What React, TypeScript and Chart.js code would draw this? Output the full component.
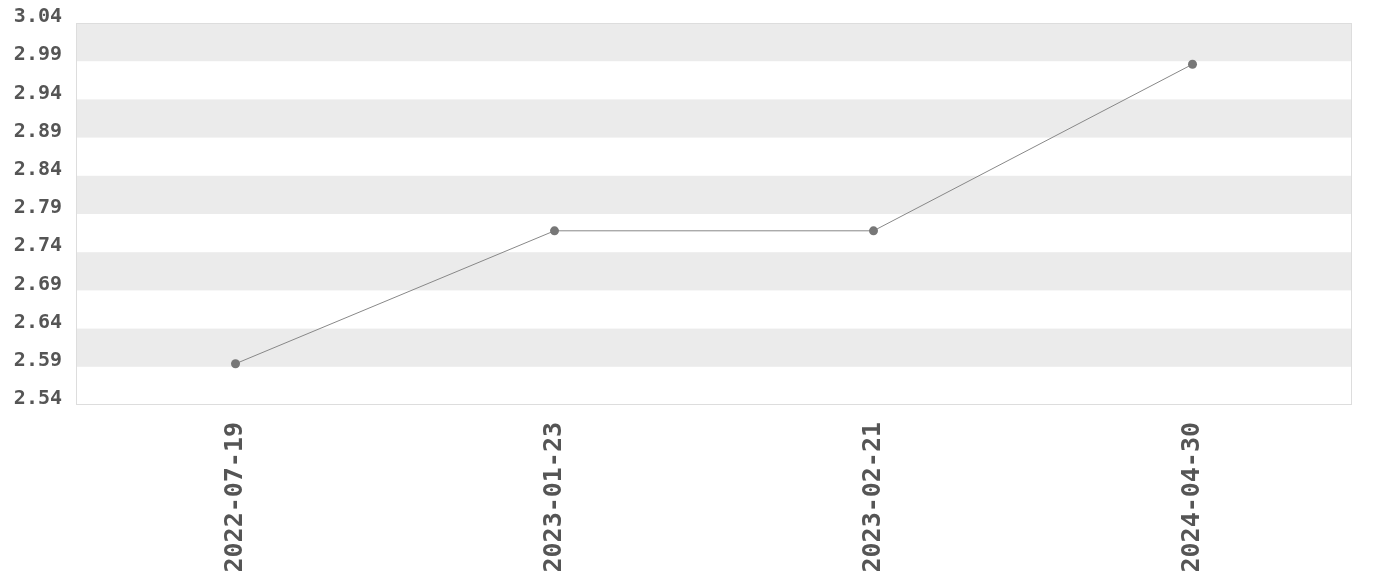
import React, { useEffect, useRef } from "react";
import { Chart, registerables } from "chart.js";

Chart.register(...registerables);

const categories = ["2022-07-19", "2023-01-23", "2023-02-21", "2024-04-30"];
const values = [2.594, 2.768, 2.768, 2.986];
const yTicks = [2.54, 2.59, 2.64, 2.69, 2.74, 2.79, 2.84, 2.89, 2.94, 2.99, 3.04];

const FONT = "'DejaVu Sans Mono', monospace";

const bandsPlugin = {
  id: "bands",
  beforeDatasetsDraw(chart: any) {
    const { ctx, chartArea } = chart;
    const y = chart.scales.y;
    ctx.save();
    ctx.fillStyle = "#ebebeb";
    for (let i = 0; i < yTicks.length - 1; i++) {
      if (i % 2 === 1) {
        const top = y.getPixelForValue(yTicks[i + 1]);
        const bottom = y.getPixelForValue(yTicks[i]);
        ctx.fillRect(chartArea.left, top, chartArea.right - chartArea.left, bottom - top);
      }
    }
    ctx.strokeStyle = "#dddddd";
    ctx.lineWidth = 1;
    ctx.strokeRect(
      Math.round(chartArea.left) + 0.5,
      Math.round(chartArea.top) + 0.5,
      Math.round(chartArea.right - chartArea.left) - 1,
      Math.round(chartArea.bottom - chartArea.top) - 1
    );
    ctx.restore();
  },
};

export default function App() {
  const ref = useRef<HTMLCanvasElement | null>(null);
  useEffect(() => {
    document.body.style.margin = "0";
    if (!ref.current) return;
    const chart = new Chart(ref.current, {
      type: "line",
      data: {
        labels: categories,
        datasets: [
          {
            data: values,
            borderColor: "#888888",
            borderWidth: 1,
            pointRadius: 4.5,
            pointBackgroundColor: "#777777",
            pointBorderColor: "#777777",
            pointBorderWidth: 0,
            tension: 0,
            fill: false,
          },
        ],
      },
      options: {
        animation: false,
        responsive: false,
        maintainAspectRatio: false,
        layout: { padding: { top: 23, right: 28, bottom: 0, left: 0 } },
        plugins: { legend: { display: false }, tooltip: { enabled: false } },
        scales: {
          x: {
            offset: true,
            grid: { display: false, drawTicks: false },
            border: { display: false },
            afterFit: (axis: any) => {
              axis.height = 175;
              axis.paddingLeft = 0;
              axis.paddingRight = 0;
            },
            ticks: {
              minRotation: 90,
              maxRotation: 90,
              padding: 17,
              color: "#555555",
              font: { family: FONT, size: 25, weight: "bold" },
            },
          },
          y: {
            min: 2.54,
            max: 3.04,
            grid: { display: false, drawTicks: false },
            border: { display: false },
            afterFit: (axis: any) => {
              axis.width = 76;
              axis.paddingTop = 0;
              axis.paddingBottom = 0;
            },
            afterBuildTicks: (axis: any) => {
              axis.ticks = yTicks.map((v) => ({ value: v }));
            },
            ticks: {
              padding: 14,
              labelOffset: -6,
              color: "#555555",
              font: { family: FONT, size: 20, weight: "bold" },
              callback: (v: any) => Number(v).toFixed(2),
            },
          },
        },
      },
      plugins: [bandsPlugin],
    });
    return () => chart.destroy();
  }, []);
  return (
    <div style={{ width: 1380, height: 580 }}>
      <canvas ref={ref} width={1380} height={580} style={{ display: "block" }} />
    </div>
  );
}
